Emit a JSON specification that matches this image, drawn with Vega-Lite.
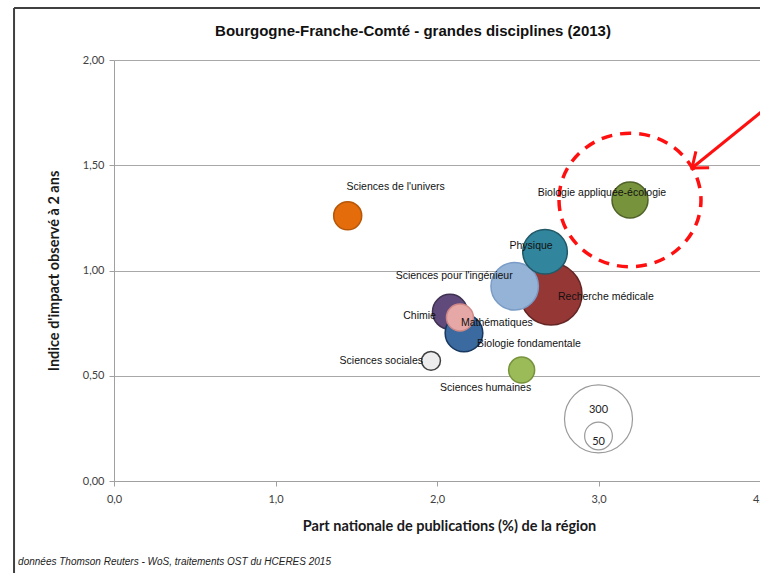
{
  "$schema": "https://vega.github.io/schema/vega-lite/v6.json",
  "width": 646,
  "height": 421,
  "autosize": {"type": "none"},
  "padding": {"left": 114, "top": 60, "right": 0, "bottom": 92},
  "background": "white",
  "title": {
    "text": "Bourgogne-Franche-Comté - grandes disciplines (2013)",
    "font": "Liberation Sans",
    "fontSize": 15,
    "fontWeight": "bold",
    "color": "#111111",
    "anchor": "middle",
    "frame": "group",
    "dx": -24,
    "offset": -32
  },
  "config": {
    "view": {"stroke": null},
    "axis": {
      "labelFont": "Lato",
      "labelFontSize": 11,
      "labelColor": "#404040",
      "titleFont": "Lato",
      "titleFontSize": 14.5,
      "titleFontWeight": "bold",
      "titleColor": "#1a1a1a",
      "domainColor": "#A0A0A0",
      "tickColor": "#A0A0A0",
      "gridColor": "#A8A8A8",
      "tickSize": 5
    }
  },
  "datasets": {
    "bubbles": [
      {"discipline": "Sciences de l'univers", "part": 1.447, "impact": 1.26, "pubs": 51},
      {"discipline": "Biologie appliquée-écologie", "part": 3.195, "impact": 1.335, "pubs": 84},
      {"discipline": "Sciences sociales", "part": 1.963, "impact": 0.571, "pubs": 23},
      {"discipline": "Sciences humaines", "part": 2.524, "impact": 0.527, "pubs": 44},
      {"discipline": "Recherche médicale", "part": 2.706, "impact": 0.888, "pubs": 249},
      {"discipline": "Sciences pour l'ingénieur", "part": 2.481, "impact": 0.925, "pubs": 146},
      {"discipline": "Physique", "part": 2.669, "impact": 1.089, "pubs": 129},
      {"discipline": "Chimie", "part": 2.08, "impact": 0.804, "pubs": 79},
      {"discipline": "Biologie fondamentale", "part": 2.167, "impact": 0.703, "pubs": 92},
      {"discipline": "Mathématiques", "part": 2.142, "impact": 0.777, "pubs": 47}
    ],
    "legend": [
      {"label": "300", "part": 3.0, "impact": 0.295, "pubs": 300},
      {"label": "50", "part": 3.0, "impact": 0.214, "pubs": 50}
    ]
  },
  "layer": [
    {
      "data": {"name": "bubbles"},
      "mark": {"type": "point", "filled": true, "opacity": 1, "strokeWidth": 1.5, "strokeOpacity": 1},
      "encoding": {
        "x": {"field": "part", "type": "quantitative", "scale": {"domain": [0, 4], "nice": false},
          "axis": {"values": [0, 1, 2, 3, 4], "labelExpr": "replace(format(datum.value, '.1f'), '.', ',')", "grid": false, "labelFlush": false, "labelOverlap": false, "labelBound": false, "labelPadding": 7, "title": "Part nationale de publications (%) de la région", "titlePadding": 15, "titleX": 335}},
        "y": {"field": "impact", "type": "quantitative", "scale": {"domain": [0, 2], "nice": false},
          "axis": {"values": [0, 0.5, 1, 1.5, 2], "labelExpr": "replace(format(datum.value, '.2f'), '.', ',')", "grid": true, "gridWidth": 1.2, "labelPadding": 5, "title": "Indice d'impact observé à 2 ans", "titlePadding": 21}},
        "size": {"field": "pubs", "type": "quantitative", "scale": {"domain": [0, 300], "range": [0, 4624]}, "legend": null},
        "fill": {"field": "discipline", "type": "nominal", "legend": null, "scale": {
          "domain": ["Sciences de l'univers", "Biologie appliquée-écologie", "Sciences sociales", "Sciences humaines", "Recherche médicale", "Sciences pour l'ingénieur", "Physique", "Chimie", "Biologie fondamentale", "Mathématiques"],
          "range": ["#E46C0A", "#77933C", "#EDEDED", "#9BBB59", "#953735", "#95B3D7", "#31859C", "#604A7B", "#3B6AA0", "#E6A8A6"]}},
        "stroke": {"field": "discipline", "type": "nominal", "legend": null, "scale": {
          "domain": ["Sciences de l'univers", "Biologie appliquée-écologie", "Sciences sociales", "Sciences humaines", "Recherche médicale", "Sciences pour l'ingénieur", "Physique", "Chimie", "Biologie fondamentale", "Mathématiques"],
          "range": ["#B65708", "#4F6228", "#404040", "#77933C", "#632523", "#7A9CC6", "#215968", "#3F3151", "#17375E", "#D08886"]}}
      }
    },
    {
      "data": {"name": "legend"},
      "mark": {"type": "point", "filled": false, "stroke": "#9A9A9A", "strokeWidth": 1.2, "fill": "white", "fillOpacity": 0, "opacity": 1},
      "encoding": {
        "x": {"field": "part", "type": "quantitative", "scale": {"domain": [0, 4], "nice": false}},
        "y": {"field": "impact", "type": "quantitative", "scale": {"domain": [0, 2], "nice": false}},
        "size": {"field": "pubs", "type": "quantitative", "scale": {"domain": [0, 300], "range": [0, 4624]}, "legend": null}
      }
    },
    {
      "data": {"name": "legend"},
      "transform": [{"filter": {"field": "label", "equal": "300"}}],
      "mark": {"type": "text", "font": "Lato", "fontSize": 11, "color": "#222222", "dy": -9},
      "encoding": {
        "x": {"field": "part", "type": "quantitative", "scale": {"domain": [0, 4], "nice": false}},
        "y": {"field": "impact", "type": "quantitative", "scale": {"domain": [0, 2], "nice": false}},
        "text": {"field": "label"}
      }
    },
    {
      "data": {"name": "legend"},
      "transform": [{"filter": {"field": "label", "equal": "50"}}],
      "mark": {"type": "text", "font": "Lato", "fontSize": 11, "color": "#222222", "dy": 6},
      "encoding": {
        "x": {"field": "part", "type": "quantitative", "scale": {"domain": [0, 4], "nice": false}},
        "y": {"field": "impact", "type": "quantitative", "scale": {"domain": [0, 2], "nice": false}},
        "text": {"field": "label"}
      }
    },
    {
      "data": {"name": "bubbles"},
      "transform": [{"filter": {"field": "discipline", "equal": "Biologie appliquée-écologie"}}],
      "mark": {"type": "point", "filled": false, "shape": "M-1,0A1,0.94,0,1,0,1,0A1,0.94,0,1,0,-1,0Z", "size": 20164, "stroke": "#FF1010", "strokeWidth": 3.5, "strokeDash": [11, 8], "opacity": 1},
      "encoding": {
        "x": {"field": "part", "type": "quantitative", "scale": {"domain": [0, 4], "nice": false}},
        "y": {"field": "impact", "type": "quantitative", "scale": {"domain": [0, 2], "nice": false}}
      }
    },
    {
      "data": {"values": [{}]},
      "mark": {"type": "rule", "color": "#FF1010", "strokeWidth": 3},
      "encoding": {
        "x": {"datum": 4.05, "type": "quantitative", "scale": {"domain": [0, 4], "nice": false}},
        "y": {"datum": 1.779, "type": "quantitative", "scale": {"domain": [0, 2], "nice": false}},
        "x2": {"datum": 3.579},
        "y2": {"datum": 1.487}
      }
    },
    {
      "data": {"values": [{}]},
      "mark": {"type": "point", "filled": false, "shape": "M-0.7,0.9L0,0L0.7,0.9", "size": 900, "angle": 231, "stroke": "#FF1010", "strokeWidth": 3, "opacity": 1},
      "encoding": {
        "x": {"datum": 3.579, "type": "quantitative", "scale": {"domain": [0, 4], "nice": false}},
        "y": {"datum": 1.487, "type": "quantitative", "scale": {"domain": [0, 2], "nice": false}}
      }
    },
    {
      "data": {"values": [{}]},
      "mark": {"type": "rule", "color": "#404040", "strokeWidth": 2},
      "encoding": {
        "x": {"datum": -0.619, "type": "quantitative", "scale": {"domain": [0, 4], "nice": false}},
        "y": {"datum": 2.247, "type": "quantitative", "scale": {"domain": [0, 2], "nice": false}},
        "y2": {"datum": -0.5}
      }
    },
    {
      "data": {"values": [{}]},
      "mark": {"type": "rule", "color": "#404040", "strokeWidth": 2},
      "encoding": {
        "x": {"datum": -0.619, "type": "quantitative", "scale": {"domain": [0, 4], "nice": false}},
        "x2": {"datum": 4.1},
        "y": {"datum": 2.247, "type": "quantitative", "scale": {"domain": [0, 2], "nice": false}}
      }
    },
    {
      "data": {"values": [{"note": "données Thomson Reuters - WoS, traitements OST du HCERES 2015"}]},
      "mark": {"type": "text", "align": "left", "baseline": "middle", "font": "Liberation Sans", "fontStyle": "italic", "fontSize": 10, "color": "#222222"},
      "encoding": {
        "x": {"datum": -0.594, "type": "quantitative", "scale": {"domain": [0, 4], "nice": false}},
        "y": {"datum": -0.385, "type": "quantitative", "scale": {"domain": [0, 2], "nice": false}},
        "text": {"field": "note"}
      }
    },
    {
      "data": {"name": "bubbles"},
      "transform": [{"filter": {"field": "discipline", "equal": "Sciences de l'univers"}}],
      "mark": {"type": "text", "align": "center", "baseline": "middle", "dx": 48, "dy": -29, "font": "Liberation Sans", "fontSize": 10.5, "color": "#111111"},
      "encoding": {"x": {"field": "part", "type": "quantitative", "scale": {"domain": [0, 4], "nice": false}}, "y": {"field": "impact", "type": "quantitative", "scale": {"domain": [0, 2], "nice": false}}, "text": {"field": "discipline"}}
    },
    {
      "data": {"name": "bubbles"},
      "transform": [{"filter": {"field": "discipline", "equal": "Biologie appliquée-écologie"}}],
      "mark": {"type": "text", "align": "center", "baseline": "middle", "dx": -28, "dy": -7, "font": "Liberation Sans", "fontSize": 10.5, "color": "#111111"},
      "encoding": {"x": {"field": "part", "type": "quantitative", "scale": {"domain": [0, 4], "nice": false}}, "y": {"field": "impact", "type": "quantitative", "scale": {"domain": [0, 2], "nice": false}}, "text": {"field": "discipline"}}
    },
    {
      "data": {"name": "bubbles"},
      "transform": [{"filter": {"field": "discipline", "equal": "Physique"}}],
      "mark": {"type": "text", "align": "center", "baseline": "middle", "dx": -14, "dy": -6, "font": "Liberation Sans", "fontSize": 10.5, "color": "#111111"},
      "encoding": {"x": {"field": "part", "type": "quantitative", "scale": {"domain": [0, 4], "nice": false}}, "y": {"field": "impact", "type": "quantitative", "scale": {"domain": [0, 2], "nice": false}}, "text": {"field": "discipline"}}
    },
    {
      "data": {"name": "bubbles"},
      "transform": [{"filter": {"field": "discipline", "equal": "Recherche médicale"}}],
      "mark": {"type": "text", "align": "left", "baseline": "middle", "dx": 7, "dy": 3, "font": "Liberation Sans", "fontSize": 10.5, "color": "#111111"},
      "encoding": {"x": {"field": "part", "type": "quantitative", "scale": {"domain": [0, 4], "nice": false}}, "y": {"field": "impact", "type": "quantitative", "scale": {"domain": [0, 2], "nice": false}}, "text": {"field": "discipline"}}
    },
    {
      "data": {"name": "bubbles"},
      "transform": [{"filter": {"field": "discipline", "equal": "Sciences pour l'ingénieur"}}],
      "mark": {"type": "text", "align": "right", "baseline": "middle", "dx": -2, "dy": -10, "font": "Liberation Sans", "fontSize": 10.5, "color": "#111111"},
      "encoding": {"x": {"field": "part", "type": "quantitative", "scale": {"domain": [0, 4], "nice": false}}, "y": {"field": "impact", "type": "quantitative", "scale": {"domain": [0, 2], "nice": false}}, "text": {"field": "discipline"}}
    },
    {
      "data": {"name": "bubbles"},
      "transform": [{"filter": {"field": "discipline", "equal": "Chimie"}}],
      "mark": {"type": "text", "align": "right", "baseline": "middle", "dx": -14, "dy": 4, "font": "Liberation Sans", "fontSize": 10.5, "color": "#111111"},
      "encoding": {"x": {"field": "part", "type": "quantitative", "scale": {"domain": [0, 4], "nice": false}}, "y": {"field": "impact", "type": "quantitative", "scale": {"domain": [0, 2], "nice": false}}, "text": {"field": "discipline"}}
    },
    {
      "data": {"name": "bubbles"},
      "transform": [{"filter": {"field": "discipline", "equal": "Mathématiques"}}],
      "mark": {"type": "text", "align": "left", "baseline": "middle", "dx": 1, "dy": 6, "font": "Liberation Sans", "fontSize": 10.5, "color": "#111111"},
      "encoding": {"x": {"field": "part", "type": "quantitative", "scale": {"domain": [0, 4], "nice": false}}, "y": {"field": "impact", "type": "quantitative", "scale": {"domain": [0, 2], "nice": false}}, "text": {"field": "discipline"}}
    },
    {
      "data": {"name": "bubbles"},
      "transform": [{"filter": {"field": "discipline", "equal": "Biologie fondamentale"}}],
      "mark": {"type": "text", "align": "left", "baseline": "middle", "dx": 13, "dy": 11, "font": "Liberation Sans", "fontSize": 10.5, "color": "#111111"},
      "encoding": {"x": {"field": "part", "type": "quantitative", "scale": {"domain": [0, 4], "nice": false}}, "y": {"field": "impact", "type": "quantitative", "scale": {"domain": [0, 2], "nice": false}}, "text": {"field": "discipline"}}
    },
    {
      "data": {"name": "bubbles"},
      "transform": [{"filter": {"field": "discipline", "equal": "Sciences sociales"}}],
      "mark": {"type": "text", "align": "right", "baseline": "middle", "dx": -8, "dy": 0, "font": "Liberation Sans", "fontSize": 10.5, "color": "#111111"},
      "encoding": {"x": {"field": "part", "type": "quantitative", "scale": {"domain": [0, 4], "nice": false}}, "y": {"field": "impact", "type": "quantitative", "scale": {"domain": [0, 2], "nice": false}}, "text": {"field": "discipline"}}
    },
    {
      "data": {"name": "bubbles"},
      "transform": [{"filter": {"field": "discipline", "equal": "Sciences humaines"}}],
      "mark": {"type": "text", "align": "center", "baseline": "middle", "dx": -36, "dy": 18, "font": "Liberation Sans", "fontSize": 10.5, "color": "#111111"},
      "encoding": {"x": {"field": "part", "type": "quantitative", "scale": {"domain": [0, 4], "nice": false}}, "y": {"field": "impact", "type": "quantitative", "scale": {"domain": [0, 2], "nice": false}}, "text": {"field": "discipline"}}
    }
  ]
}
